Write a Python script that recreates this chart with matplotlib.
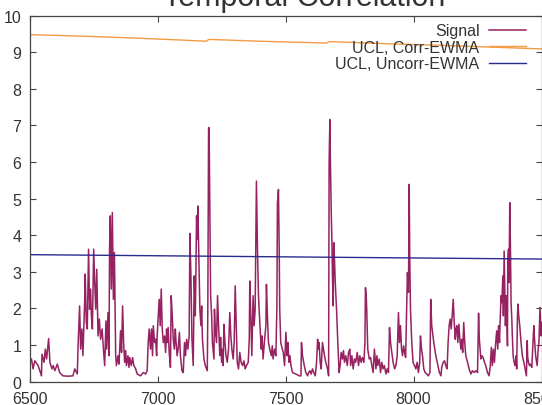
import matplotlib
matplotlib.use('Agg')
import matplotlib.pyplot as plt

# signal (sample index, value)
sig_x = [6500, 6507, 6513, 6520, 6533, 6546, 6548, 6556, 6561, 6566, 6574, 6579, 6587, 6592,
         6598, 6608, 6617, 6630, 6650, 6669, 6676, 6686, 6689, 6695, 6699, 6704, 6708, 6715,
         6717, 6721, 6725, 6730, 6734, 6738, 6741, 6745, 6750, 6754, 6758, 6762, 6767, 6772,
         6777, 6783, 6788, 6793, 6798, 6801, 6806, 6810, 6812, 6815, 6819, 6823, 6827, 6831,
         6836, 6839, 6845, 6849, 6855, 6859, 6863, 6867, 6871, 6875, 6878, 6884, 6888, 6891,
         6897, 6902, 6907, 6914, 6920, 6933, 6944, 6953, 6959, 6963, 6967, 6972, 6976, 6980,
         6983, 6988, 6992, 6996, 6998, 7002, 7006, 7010, 7014, 7018, 7022, 7027, 7031, 7035,
         7037, 7041, 7045, 7050, 7053, 7057, 7061, 7065, 7069, 7072, 7076, 7080, 7085, 7089,
         7095, 7100, 7105, 7109, 7113, 7118, 7123, 7126, 7130, 7134, 7139, 7143, 7147, 7149,
         7152, 7155, 7157, 7161, 7165, 7169, 7172, 7175, 7181, 7186, 7194, 7196, 7199, 7201,
         7204, 7207, 7211, 7214, 7220, 7222, 7225, 7230, 7234, 7238, 7243, 7246, 7250, 7254,
         7256, 7259, 7263, 7267, 7272, 7277, 7282, 7286, 7290, 7295, 7299, 7303, 7307, 7311,
         7316, 7321, 7326, 7332, 7337, 7342, 7347, 7354, 7358, 7360, 7364, 7368, 7373, 7377,
         7381, 7386, 7390, 7394, 7399, 7405, 7408, 7412, 7418, 7423, 7425, 7429, 7433, 7438,
         7444, 7448, 7451, 7457, 7462, 7466, 7468, 7472, 7475, 7477, 7481, 7487, 7491, 7496,
         7501, 7506, 7509, 7513, 7517, 7521, 7527, 7540, 7553, 7560, 7562, 7566, 7573, 7579,
         7586, 7590, 7595, 7600, 7605, 7610, 7616, 7621, 7625, 7629, 7631, 7635, 7639, 7644,
         7648, 7652, 7657, 7664, 7668, 7670, 7673, 7675, 7678, 7681, 7683, 7686, 7688, 7691,
         7694, 7699, 7704, 7709, 7713, 7717, 7722, 7726, 7730, 7735, 7741, 7746, 7751, 7754,
         7759, 7764, 7769, 7774, 7780, 7785, 7790, 7795, 7800, 7806, 7810, 7812, 7815, 7817,
         7821, 7827, 7832, 7837, 7842, 7847, 7853, 7857, 7860, 7866, 7871, 7876, 7881, 7886,
         7892, 7897, 7902, 7906, 7910, 7915, 7920, 7926, 7931, 7936, 7941, 7945, 7949, 7953,
         7957, 7961, 7965, 7969, 7972, 7976, 7980, 7983, 7985, 7988, 7993, 7998, 8004, 8009,
         8014, 8019, 8024, 8027, 8031, 8035, 8040, 8045, 8052, 8058, 8064, 8067, 8071, 8079,
         8087, 8095, 8101, 8107, 8110, 8116, 8121, 8126, 8131, 8135, 8139, 8143, 8147, 8151,
         8155, 8159, 8163, 8166, 8169, 8173, 8177, 8181, 8185, 8188, 8192, 8196, 8200, 8204,
         8211, 8217, 8224, 8230, 8237, 8243, 8250, 8254, 8257, 8263, 8267, 8272, 8277, 8282,
         8289, 8295, 8300, 8304, 8308, 8312, 8316, 8321, 8325, 8329, 8332, 8336, 8338, 8342,
         8345, 8349, 8351, 8354, 8356, 8359, 8362, 8364, 8367, 8368, 8371, 8373, 8376, 8379,
         8381, 8384, 8386, 8389, 8393, 8397, 8401, 8403, 8406, 8408, 8411, 8415, 8420, 8425,
         8431, 8436, 8441, 8444, 8446, 8449, 8453, 8457, 8462, 8467, 8470, 8472, 8477, 8483,
         8487, 8490, 8494, 8498, 8501]
sig_y = [0.53, 0.62, 0.35, 0.57, 0.44, 0.16, 0.75, 0.53, 0.89, 0.62, 1.18, 0.53, 0.35, 0.44,
         0.30, 0.48, 0.25, 0.16, 0.15, 0.16, 0.35, 0.21, 0.98, 2.07, 0.89, 1.44, 0.71, 2.25,
         2.94, 1.62, 1.44, 3.62, 1.98, 2.53, 1.80, 1.44, 3.62, 2.71, 1.98, 3.07, 1.25, 1.71,
         1.16, 1.44, 0.89, 0.44, 1.66, 0.89, 1.89, 0.71, 3.62, 4.53, 2.53, 4.62, 2.25, 3.53,
         0.71, 0.44, 0.71, 0.48, 1.39, 0.80, 2.07, 1.07, 0.53, 0.85, 0.44, 0.71, 0.39, 0.66,
         0.44, 0.66, 0.44, 0.35, 0.21, 0.16, 0.25, 0.21, 0.30, 1.07, 1.44, 0.89, 1.44, 0.71,
         1.53, 1.07, 1.16, 0.71, 1.25, 1.75, 2.25, 1.53, 2.53, 1.44, 1.07, 1.25, 0.80, 1.44,
         1.07, 1.48, 0.80, 0.39, 2.35, 1.80, 1.16, 0.89, 1.44, 1.07, 0.71, 0.89, 1.35, 0.71,
         0.30, 0.25, 1.07, 0.71, 1.16, 0.89, 1.25, 4.05, 2.89, 1.16, 0.44, 2.89, 1.80, 2.71,
         4.53, 3.89, 4.80, 3.44, 1.98, 1.53, 2.07, 1.16, 0.62, 0.44, 0.30, 1.98, 6.94, 6.94,
         4.62, 2.35, 1.80, 1.07, 0.62, 1.98, 1.44, 1.07, 2.35, 1.53, 0.71, 1.21, 0.53, 0.89,
         0.44, 1.57, 1.07, 0.71, 0.53, 0.89, 1.89, 1.25, 0.89, 0.62, 1.07, 2.62, 1.62, 0.53,
         0.35, 0.80, 0.53, 0.44, 0.57, 0.35, 0.44, 0.53, 1.16, 2.75, 1.80, 0.71, 2.35, 1.53,
         1.98, 5.48, 3.62, 2.35, 1.62, 0.89, 1.25, 0.62, 1.16, 1.53, 2.66, 1.80, 1.07, 0.89,
         0.71, 0.98, 0.62, 0.89, 0.71, 2.07, 4.85, 5.25, 3.62, 1.98, 1.07, 0.89, 0.80, 0.44,
         1.35, 0.71, 1.07, 0.53, 0.71, 0.44, 0.25, 0.21, 0.16, 0.16, 1.07, 0.71, 0.44, 0.25,
         0.16, 0.25, 0.30, 0.21, 0.35, 0.25, 0.16, 0.53, 1.16, 0.89, 1.07, 0.53, 0.35, 1.07,
         0.89, 0.71, 0.53, 0.35, 0.16, 5.98, 7.16, 6.07, 4.71, 3.80, 2.89, 2.07, 3.80, 3.35,
         2.71, 1.98, 1.07, 0.25, 0.44, 0.80, 0.62, 0.85, 0.53, 0.71, 0.44, 0.80, 0.89, 0.44,
         0.71, 0.35, 0.62, 0.53, 0.80, 0.44, 0.71, 0.53, 0.66, 0.53, 1.07, 2.57, 2.35, 1.98,
         0.89, 0.62, 0.66, 0.44, 0.25, 0.89, 0.35, 0.71, 0.44, 0.62, 0.25, 0.53, 0.35, 0.44,
         0.21, 0.35, 0.25, 1.48, 1.07, 0.80, 0.53, 0.35, 0.44, 0.71, 1.89, 1.07, 1.53, 0.89,
         0.71, 0.98, 0.80, 0.66, 1.62, 2.98, 2.44, 5.39, 3.44, 1.98, 1.07, 0.53, 0.44, 0.35,
         0.53, 0.25, 0.53, 1.25, 0.89, 0.71, 0.35, 0.25, 0.21, 0.16, 0.25, 2.25, 1.53, 1.07,
         0.71, 0.44, 0.25, 0.16, 0.39, 0.53, 0.57, 0.44, 0.35, 1.07, 1.53, 1.71, 1.44, 1.80,
         2.25, 1.62, 1.16, 1.44, 1.53, 1.07, 1.57, 1.16, 0.89, 1.16, 0.80, 1.62, 1.07, 0.71,
         0.53, 0.35, 0.21, 0.30, 0.25, 0.30, 0.25, 1.87, 1.16, 0.62, 0.71, 0.66, 0.53, 0.44,
         0.25, 0.16, 0.44, 0.94, 0.44, 0.89, 0.53, 1.07, 1.39, 0.89, 1.53, 1.07, 1.62, 2.35,
         2.16, 2.89, 1.80, 3.57, 2.71, 1.53, 2.35, 1.98, 0.98, 3.25, 3.62, 2.71, 4.89, 3.44,
         2.16, 1.71, 1.25, 0.71, 0.53, 0.44, 0.71, 0.35, 1.80, 2.12, 1.80, 1.53, 1.07, 0.71,
         0.53, 0.35, 0.16, 1.12, 0.66, 0.53, 0.44, 0.48, 0.39, 1.07, 1.53, 1.25, 0.71, 0.44,
         0.89, 1.07, 2.03, 1.25, 1.62]

# upper control limits
corr_x = [6500, 6700, 6900, 7100, 7190, 7200, 7400, 7660, 7670, 7900, 8100, 8300, 8500]
corr_y = [9.48, 9.44, 9.39, 9.33, 9.30, 9.35, 9.30, 9.25, 9.29, 9.23, 9.19, 9.14, 9.09]
uncorr_x = [6500, 7000, 7500, 8000, 8500]
uncorr_y = [3.47, 3.44, 3.41, 3.38, 3.35]

plt.rcParams['font.family'] = ['Liberation Sans', 'DejaVu Sans']

fig = plt.figure(figsize=(5.42, 4.06), dpi=100)
ax = fig.add_axes([0.0548, 0.0574, 0.9443, 0.9017])

ax.plot(sig_x, sig_y, color='#962261', lw=1.1, label='Signal')
ax.plot(corr_x, corr_y, color='#f39c45', lw=1.0, label='UCL, Corr-EWMA')
ax.plot(uncorr_x, uncorr_y, color='#2b2b8f', lw=1.0, label='UCL, Uncorr-EWMA')

ax.set_xlim(6500, 8500)
ax.set_ylim(0, 10)
ax.set_xticks([6500, 7000, 7500, 8000, 8500])
ax.set_yticks(range(0, 11))
ax.tick_params(direction='in', length=4, width=0.8, color='#444444',
               labelsize=11.5, labelcolor='#333333', top=True, right=True)
ax.tick_params(axis='x', pad=7)
ax.tick_params(axis='y', pad=6)
for s in ax.spines.values():
    s.set_color('#444444')
    s.set_linewidth(0.9)

fig.text(0.561, 0.985, 'Temporal Correlation', ha='center', va='baseline',
         fontsize=22, color='#333333')

leg = ax.legend(loc='upper right', bbox_to_anchor=(0.991, 1.01), frameon=False,
                markerfirst=False, fontsize=11.5, handlelength=2.3,
                labelspacing=0.1, borderpad=0.2, handletextpad=0.6)
for t in leg.get_texts():
    t.set_color('#333333')

fig.savefig('out.png', dpi=100)
